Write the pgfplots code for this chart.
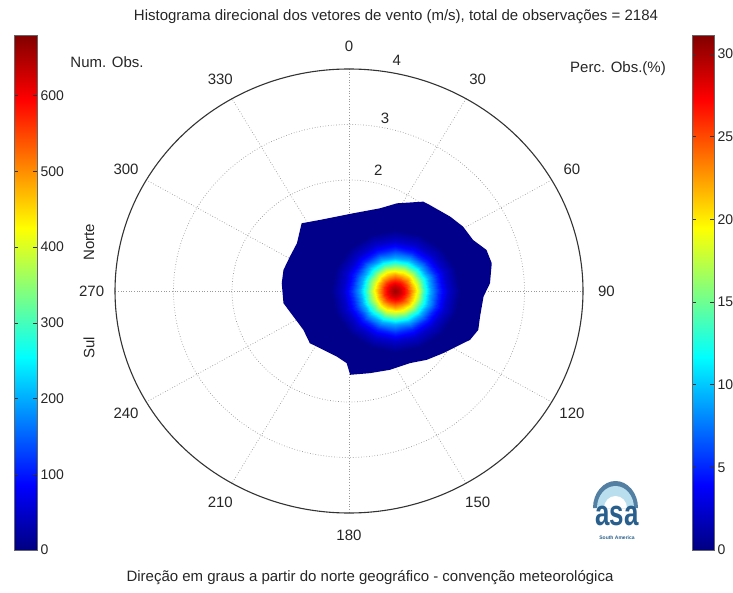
\documentclass[border=0pt]{standalone}
\usepackage{pgfplots}
\pgfplotsset{compat=1.18}
\usepackage{fontspec}
\setmainfont{Liberation Sans}
\definecolor{blobnavy}{rgb}{0,0,0.547}
\definecolor{txt}{gray}{0.15}
\definecolor{gridc}{gray}{0.6}
\definecolor{logoblue}{RGB}{40,95,140}
\definecolor{logolight}{RGB}{185,222,238}
\pgfplotsset{/pgf/number format/assume math mode=true}

\begin{document}
\begin{tikzpicture}
\path[use as bounding box] (0,0) rectangle (733pt,592pt);

% ---------- polar grid + outer blob ----------
\begin{axis}[
  at={(349pt,301pt)}, anchor=center,
  scale only axis, width=468pt, height=444pt,
  xmin=-4,xmax=4,ymin=-4,ymax=4,
  hide axis, clip=false,
]
\draw[gridc, dotted, line width=0.7pt] (axis cs:0,0) ellipse [x radius=1, y radius=1];
\draw[gridc, dotted, line width=0.7pt] (axis cs:0,0) ellipse [x radius=2, y radius=2];
\draw[gridc, dotted, line width=0.7pt] (axis cs:0,0) ellipse [x radius=3, y radius=3];
\draw[gridc, dotted, line width=0.7pt] (axis cs:0,4) -- (axis cs:0,-4);
\draw[gridc, dotted, line width=0.7pt] (axis cs:2,3.464) -- (axis cs:-2,-3.464);
\draw[gridc, dotted, line width=0.7pt] (axis cs:3.464,2) -- (axis cs:-3.464,-2);
\draw[gridc, dotted, line width=0.7pt] (axis cs:4,0) -- (axis cs:-4,0);
\draw[gridc, dotted, line width=0.7pt] (axis cs:3.464,-2) -- (axis cs:-3.464,2);
\draw[gridc, dotted, line width=0.7pt] (axis cs:2,-3.464) -- (axis cs:-2,3.464);

\addplot[fill=blobnavy, draw=none, forget plot] coordinates {
(-0.81,1.22) (-0.50,1.28) (0.07,1.40) (0.53,1.49) (0.82,1.58) (1.27,1.61)
(1.38,1.55) (1.73,1.34) (1.95,1.16) (2.12,0.92) (2.35,0.74) (2.44,0.50)
(2.41,0.14) (2.30,-0.10) (2.24,-0.46) (2.21,-0.70) (2.07,-0.88) (1.84,-1.00)
(1.61,-1.12) (1.33,-1.24) (1.04,-1.30) (0.70,-1.42) (0.36,-1.48) (0.02,-1.51)
(-0.04,-1.30) (-0.21,-1.18) (-0.44,-1.06) (-0.67,-0.94) (-0.78,-0.70) (-0.95,-0.46)
(-1.12,-0.22) (-1.15,0.14) (-1.12,0.38) (-1.01,0.62) (-0.89,0.86)
} -- cycle;

\draw[black!80, line width=1.1pt] (axis cs:0,0) ellipse [x radius=4, y radius=4];

\begin{scope}[every node/.style={font=\fontsize{15}{18}\selectfont, text=txt}]
\node at (axis cs:0.5,2.18) {2};
\node at (axis cs:0.615,3.12) {3};
\node at (axis cs:0.815,4.16) {4};
\node at (axis cs:0,4.4) {0};
\node at (axis cs:2.2,3.811) {30};
\node at (axis cs:3.811,2.2) {60};
\node at (axis cs:4.4,0) {90};
\node at (axis cs:3.811,-2.2) {120};
\node at (axis cs:2.2,-3.811) {150};
\node at (axis cs:0,-4.4) {180};
\node at (axis cs:-2.2,-3.811) {210};
\node at (axis cs:-3.811,-2.2) {240};
\node at (axis cs:-4.4,0) {270};
\node at (axis cs:-3.811,2.2) {300};
\node at (axis cs:-2.2,3.811) {330};
\end{scope}
\end{axis}

% ---------- inner colour gradient of the histogram ----------
\begin{axis}[
  at={(349pt,301pt)}, anchor=center,
  scale only axis, width=468pt, height=444pt,
  xmin=-4,xmax=4,ymin=-4,ymax=4,
  view={0}{90}, hide axis,
  colormap/jet, point meta min=0, point meta max=680,
]
\addplot3[surf, shader=interp, mesh/rows=10, mesh/cols=17, point meta=\thisrow{z}] table {
x y z
0.790 0.000 660
0.790 0.000 660
0.790 0.000 660
0.790 0.000 660
0.790 0.000 660
0.790 0.000 660
0.790 0.000 660
0.790 0.000 660
0.790 0.000 660
0.790 0.000 660
0.790 0.000 660
0.790 0.000 660
0.790 0.000 660
0.790 0.000 660
0.790 0.000 660
0.790 0.000 660
0.790 0.000 660
0.890 0.000 625
0.882 0.038 625
0.861 0.071 625
0.828 0.092 625
0.790 0.100 625
0.752 0.092 625
0.719 0.071 625
0.698 0.038 625
0.690 0.000 625
0.698 -0.038 625
0.719 -0.071 625
0.752 -0.092 625
0.790 -0.100 625
0.828 -0.092 625
0.861 -0.071 625
0.882 -0.038 625
0.890 0.000 625
0.990 0.000 565
0.975 0.077 565
0.931 0.141 565
0.867 0.185 565
0.790 0.200 565
0.713 0.185 565
0.649 0.141 565
0.605 0.077 565
0.590 0.000 565
0.605 -0.077 565
0.649 -0.141 565
0.713 -0.185 565
0.790 -0.200 565
0.867 -0.185 565
0.931 -0.141 565
0.975 -0.077 565
0.990 0.000 565
1.090 0.000 480
1.067 0.115 480
1.002 0.212 480
0.905 0.277 480
0.790 0.300 480
0.675 0.277 480
0.578 0.212 480
0.513 0.115 480
0.490 0.000 480
0.513 -0.115 480
0.578 -0.212 480
0.675 -0.277 480
0.790 -0.300 480
0.905 -0.277 480
1.002 -0.212 480
1.067 -0.115 480
1.090 0.000 480
1.190 0.000 390
1.160 0.153 390
1.073 0.283 390
0.943 0.370 390
0.790 0.400 390
0.637 0.370 390
0.507 0.283 390
0.420 0.153 390
0.390 0.000 390
0.420 -0.153 390
0.507 -0.283 390
0.637 -0.370 390
0.790 -0.400 390
0.943 -0.370 390
1.073 -0.283 390
1.160 -0.153 390
1.190 0.000 390
1.290 0.000 290
1.252 0.191 290
1.144 0.354 290
0.981 0.462 290
0.790 0.500 290
0.599 0.462 290
0.436 0.354 290
0.328 0.191 290
0.290 0.000 290
0.328 -0.191 290
0.436 -0.354 290
0.599 -0.462 290
0.790 -0.500 290
0.981 -0.462 290
1.144 -0.354 290
1.252 -0.191 290
1.290 0.000 290
1.390 0.000 200
1.344 0.230 200
1.214 0.424 200
1.020 0.554 200
0.790 0.600 200
0.560 0.554 200
0.366 0.424 200
0.236 0.230 200
0.190 0.000 200
0.236 -0.230 200
0.366 -0.424 200
0.560 -0.554 200
0.790 -0.600 200
1.020 -0.554 200
1.214 -0.424 200
1.344 -0.230 200
1.390 0.000 200
1.540 0.000 110
1.483 0.287 110
1.320 0.530 110
1.077 0.693 110
0.790 0.750 110
0.503 0.693 110
0.260 0.530 110
0.097 0.287 110
0.040 0.000 110
0.097 -0.287 110
0.260 -0.530 110
0.503 -0.693 110
0.790 -0.750 110
1.077 -0.693 110
1.320 -0.530 110
1.483 -0.287 110
1.540 0.000 110
1.690 0.000 50
1.622 0.344 50
1.426 0.636 50
1.134 0.832 50
0.790 0.900 50
0.446 0.832 50
0.154 0.636 50
-0.042 0.344 50
-0.110 0.000 50
-0.042 -0.344 50
0.154 -0.636 50
0.446 -0.832 50
0.790 -0.900 50
1.134 -0.832 50
1.426 -0.636 50
1.622 -0.344 50
1.690 0.000 50
1.890 0.000 8
1.806 0.421 8
1.568 0.778 8
1.211 1.016 8
0.790 1.100 8
0.369 1.016 8
0.012 0.778 8
-0.226 0.421 8
-0.310 0.000 8
-0.226 -0.421 8
0.012 -0.778 8
0.369 -1.016 8
0.790 -1.100 8
1.211 -1.016 8
1.568 -0.778 8
1.806 -0.421 8
1.890 0.000 8
};
\end{axis}

% ---------- left colour bar (Num. Obs.) ----------
\begin{axis}[
  at={(14pt,42pt)}, anchor=south west,
  scale only axis, width=23pt, height=515pt,
  xmin=0,xmax=1,ymin=0,ymax=680,
  xtick=\empty, ytick={0,100,...,600}, yticklabel pos=right,
  tick align=inside, major tick length=4pt,
  axis line style={black!60, line width=0.4pt},
  tick style={black!80, line width=0.5pt},
  yticklabel style={font=\fontsize{14}{16}\selectfont, text=txt},
  colormap/jet, point meta min=0, point meta max=680,
  axis on top,
]
\addplot[patch, shader=interp, point meta=explicit] coordinates {
(0,0) [0] (1,0) [0] (1,680) [680]
(0,0) [0] (1,680) [680] (0,680) [680]
};
\end{axis}

% ---------- right colour bar (Perc. Obs.) ----------
\begin{axis}[
  at={(692pt,42pt)}, anchor=south west,
  scale only axis, width=22pt, height=515pt,
  xmin=0,xmax=1,ymin=0,ymax=31.14,
  xtick=\empty, ytick={0,5,...,30}, yticklabel pos=right,
  tick align=inside, major tick length=4pt,
  axis line style={black!60, line width=0.4pt},
  tick style={black!80, line width=0.5pt},
  yticklabel style={font=\fontsize{14}{16}\selectfont, text=txt},
  colormap/jet, point meta min=0, point meta max=31.14,
  axis on top,
]
\addplot[patch, shader=interp, point meta=explicit] coordinates {
(0,0) [0] (1,0) [0] (1,31.14) [31.14]
(0,0) [0] (1,31.14) [31.14] (0,31.14) [31.14]
};
\end{axis}

% ---------- texts ----------
\begin{scope}[every node/.style={text=txt}]
\node[font=\fontsize{15}{18}\selectfont] at (396pt,575pt) {Histograma direcional dos vetores de vento (m/s), total de observações = 2184};
\node[font=\fontsize{15}{18}\selectfont] at (370pt,14pt) {Direção em graus a partir do norte geográfico - convenção meteorológica};
\node[font=\fontsize{15}{18}\selectfont] at (107pt,530pt) {Num. Obs.};
\node[font=\fontsize{15}{18}\selectfont] at (618pt,523pt) {Perc. Obs.(\%)};
\node[font=\fontsize{15}{18}\selectfont, rotate=90] at (89pt,350pt) {Norte};
\node[font=\fontsize{15}{18}\selectfont, rotate=90] at (89pt,244pt) {Sul};
\end{scope}

% ---------- logo ----------
\fill[logoblue!80] (593pt,84pt) arc[start angle=180, end angle=0, x radius=22.5pt, y radius=27pt] -- cycle;
\fill[logolight] (597pt,84pt) arc[start angle=180, end angle=0, x radius=18.5pt, y radius=22pt] -- cycle;
\fill[white] (604pt,84pt) arc[start angle=180, end angle=0, x radius=11.5pt, y radius=12pt] -- cycle;
\node[text=logoblue, font=\bfseries\fontsize{36}{36}\selectfont, xscale=0.72, inner sep=0pt] at (617pt,76pt) {asa};
\node[text=logoblue, font=\bfseries\fontsize{5}{6}\selectfont, inner sep=0pt] at (617pt,54pt) {South America};
\end{tikzpicture}
\end{document}
